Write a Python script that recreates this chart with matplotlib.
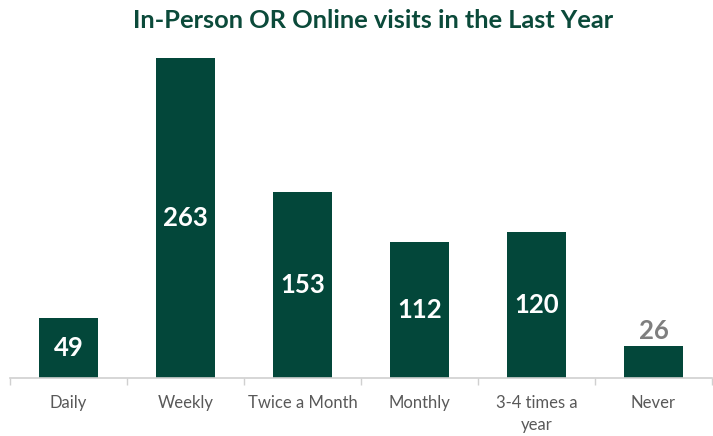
import matplotlib

matplotlib.use("Agg")
from matplotlib import pyplot as plt  # noqa: E402
import numpy as np  # noqa: E402

categories = ["Daily", "Weekly", "Twice a Month", "Monthly", "3-4 times a\nyear", "Never"]
visits = [49, 263, 153, 112, 120, 26]

BAR_COLOR = "#03473a"
TITLE_COLOR = "#0b4a3a"
TEXT_GRAY = "#595959"
AXIS_GRAY = "#d0d0d0"

plt.rcParams["font.family"] = ["Lato", "DejaVu Sans"]

fig = plt.figure(figsize=(7.13, 4.36), dpi=100)
ax = fig.add_axes([10 / 713, 58 / 436, 702 / 713, 328.6 / 436])

xs = np.arange(len(categories))
bars = ax.bar(xs, visits, width=0.51, color=BAR_COLOR)

ax.set_xlim(-0.5, len(categories) - 0.5)
ax.set_ylim(0, 270)

for bar, value in zip(bars, visits):
    cx = bar.get_x() + bar.get_width() / 2
    if value < 40:
        ax.text(cx, value + 3, str(value), ha="center", va="bottom",
                color="#7f7f7f", fontsize=18.5, fontweight="bold")
    else:
        ax.text(cx, value / 2, str(value), ha="center", va="center",
                color="white", fontsize=18.5, fontweight="bold")

ax.set_xticks(xs)
ax.set_xticklabels(categories, color=TEXT_GRAY, fontsize=12, linespacing=1.5)
ax.tick_params(axis="x", which="major", length=0, pad=12)
ax.set_xticks(np.arange(-0.5, len(categories)), minor=True)
ax.tick_params(axis="x", which="minor", length=5, color=AXIS_GRAY, width=1)
ax.set_yticks([])
for side in ("top", "right", "left"):
    ax.spines[side].set_visible(False)
ax.spines["bottom"].set_color(AXIS_GRAY)
ax.spines["bottom"].set_linewidth(1.2)

fig.text(373 / 713, 1 - 20 / 436, "In-Person OR Online visits in the Last Year",
         ha="center", va="center", color=TITLE_COLOR, fontsize=18.3, fontweight="bold")

fig.savefig("out.png", dpi=100)
